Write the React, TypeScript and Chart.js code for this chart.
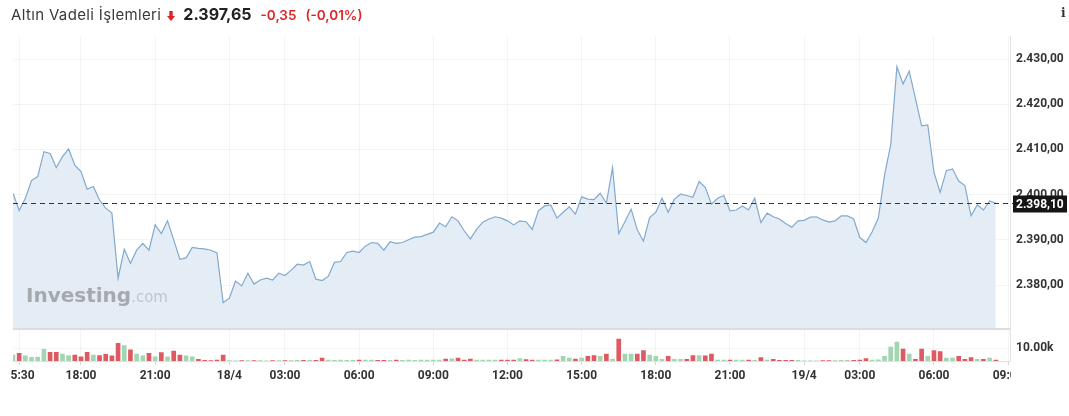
import React, { useEffect, useRef } from 'react';
import { Chart, registerables } from 'chart.js';

Chart.register(...registerables);

// ---- data ----
const prices: number[] = [
  2400.3, 2396.5, 2399.2, 2403.1, 2404.0, 2409.5, 2409.1, 2406.0, 2408.4, 2410.1,
  2406.5, 2405.1, 2401.2, 2401.8, 2398.8, 2397.0, 2395.9, 2381.5, 2387.9, 2384.8,
  2387.7, 2389.2, 2387.7, 2393.3, 2391.4, 2394.2, 2390.0, 2385.7, 2386.0, 2388.3,
  2388.1, 2388.0, 2387.7, 2387.1, 2376.1, 2377.1, 2380.9, 2379.8, 2382.6, 2380.2,
  2381.1, 2381.5, 2381.1, 2382.6, 2382.1, 2383.3, 2384.6, 2384.4, 2385.2, 2381.3,
  2381.0, 2381.9, 2385.0, 2385.2, 2387.2, 2387.5, 2387.2, 2388.6, 2389.4, 2389.2,
  2387.7, 2389.6, 2389.2, 2389.4, 2390.0, 2390.6, 2390.7, 2391.2, 2391.7, 2393.7,
  2392.9, 2395.1, 2394.2, 2392.0, 2390.2, 2392.3, 2393.9, 2394.6, 2395.1, 2394.8,
  2394.2, 2393.3, 2394.2, 2394.0, 2392.3, 2396.4, 2397.5, 2397.7, 2394.8, 2396.1,
  2397.3, 2395.7, 2399.5, 2399.0, 2398.9, 2400.3, 2398.1, 2406.0, 2391.4, 2394.0,
  2396.8, 2392.2, 2389.7, 2394.9, 2396.1, 2399.2, 2396.1, 2399.0, 2400.1, 2399.8,
  2399.4, 2402.9, 2401.6, 2397.9, 2399.2, 2399.8, 2396.4, 2396.6, 2397.5, 2396.6,
  2399.2, 2393.8, 2395.9, 2395.1, 2394.6, 2393.6, 2392.8, 2394.2, 2394.3, 2395.0,
  2395.1, 2394.4, 2393.9, 2394.2, 2395.3, 2395.3, 2394.6, 2390.5, 2389.4, 2391.8,
  2394.8, 2404.3, 2411.0, 2428.3, 2424.5, 2427.3, 2421.3, 2415.2, 2415.4, 2404.9,
  2400.5, 2405.3, 2405.7, 2403.0, 2402.0, 2395.3, 2397.7, 2396.6, 2398.6, 2398.1,
];

const volumes: number[] = [
  4600, 5900, 3900, 2800, 3100, 9000, 6700, 6700, 5400, 4100,
  4600, 3300, 6700, 4600, 4100, 5200, 3900, 13600, 11800, 8500,
  5400, 3900, 5900, 3300, 6400, 3300, 7700, 4600, 3900, 3300,
  1300, 500, 300, 800, 4600, 300, 200, 400, 400, 400,
  400, 200, 300, 300, 300, 300, 500, 500, 600, 600,
  2200, 800, 600, 700, 600, 600, 700, 700, 700, 600,
  600, 600, 700, 600, 700, 600, 700, 800, 700, 800,
  1500, 1600, 2200, 800, 1500, 800, 700, 700, 700, 700,
  800, 700, 1800, 1100, 800, 800, 800, 700, 900, 3500,
  2300, 1500, 2300, 3500, 4200, 3500, 5400, 1500, 16900, 5400,
  5400, 5400, 8100, 4600, 3500, 1200, 3500, 1200, 1200, 1200,
  4200, 4200, 3900, 5400, 800, 800, 800, 700, 700, 700,
  600, 2700, 800, 1200, 600, 600, 600, 500, 200, 200,
  200, 300, 300, 400, 500, 500, 600, 800, 1900, 800,
  900, 3500, 10800, 14600, 9200, 5400, 1200, 9200, 3500, 8100,
  7300, 2300, 2300, 3500, 1200, 2700, 1200, 1200, 2300, 800,
];

const priceTicks: number[] = [2380, 2390, 2400, 2410, 2420, 2430];
const volumeTicks: number[] = [10000];
// indices (15-minute sessions) that carry a time label
const tickIndexes: number[] = [1, 11, 23, 35, 44, 56, 68, 80, 92, 104, 116, 128, 137, 149, 161];

// 15-minute session labels, starting 17/4 15:15, daily break 00:00 -> 01:00
const timeLabels: string[] = (() => {
  const out: string[] = [];
  let day = 17;
  let mins = 15 * 60 + 15;
  const pad = (n: number) => (n < 10 ? '0' : '') + n;
  for (let i = 0; i < 162; i++) {
    const h = Math.floor(mins / 60);
    const m = mins % 60;
    out.push(h === 0 && m === 0 ? `${day}/4` : `${pad(h)}:${pad(m)}`);
    mins += 15;
    if (mins === 24 * 60) { mins = 0; day++; }
    else if (mins === 15) mins = 60;
  }
  return out;
})();

const fmtPrice = (v: number) => {
  const [i, d] = v.toFixed(2).split('.');
  return i.replace(/\B(?=(\d{3})+(?!\d))/g, '.') + ',' + d;
};

const GREEN = '#a2d5b0';
const RED = '#de5a62';
const FONT = 'Roboto, "Noto Sans", sans-serif';

export default function App() {
  const ref = useRef<HTMLCanvasElement | null>(null);

  useEffect(() => {
    if (!ref.current) return;
    const lastPrice = prices[prices.length - 1];
    const volColors = volumes.map((_, i) =>
      i === 0 || prices[i] >= prices[i - 1] ? GREEN : RED
    );

    const overlay = {
      id: 'overlay',
      afterDraw(chart: any) {
        const { ctx, chartArea } = chart;
        const y = chart.scales.y;
        const x = chart.scales.x;
        ctx.save();
        // separator between price & volume panes
        ctx.strokeStyle = '#d2d2d2';
        ctx.lineWidth = 1.5;
        ctx.beginPath();
        ctx.moveTo(chartArea.left, y.bottom + 0.5);
        ctx.lineTo(chartArea.right, y.bottom + 0.5);
        ctx.stroke();
        // last price dashed line
        const py = Math.round(y.getPixelForValue(lastPrice)) + 0.5;
        ctx.strokeStyle = '#333';
        ctx.lineWidth = 1;
        ctx.setLineDash([5, 4]);
        ctx.beginPath();
        ctx.moveTo(chartArea.left, py);
        ctx.lineTo(chartArea.right + 3, py);
        ctx.stroke();
        ctx.setLineDash([]);
        // label box
        ctx.fillStyle = '#151515';
        ctx.fillRect(chartArea.right + 3, py - 8, 54, 17);
        ctx.fillStyle = '#fff';
        ctx.font = `bold 12px ${FONT}`;
        ctx.textBaseline = 'middle';
        ctx.textAlign = 'left';
        ctx.fillText(fmtPrice(lastPrice), chartArea.right + 6, py + 1);
        // clip time labels to the plot width
        ctx.fillStyle = '#fff';
        ctx.fillRect(0, x.top + 1, chartArea.left - 3, x.height);
        ctx.fillRect(chartArea.right + 1, x.top + 1, chart.width, x.height);
        ctx.restore();
      },
    };

    const tickFont = { family: FONT, size: 12, weight: 'bold' as const };

    const chart = new Chart(ref.current, {
      data: {
        datasets: [
          {
            type: 'line',
            data: prices.map((v, i) => ({ x: i, y: v })),
            xAxisID: 'x',
            yAxisID: 'y',
            borderColor: '#82a9cf',
            borderWidth: 1.2,
            backgroundColor: '#e4edf5',
            fill: 'start',
            pointRadius: 0,
            tension: 0,
          },
          {
            type: 'bar',
            data: volumes.map((v, i) => ({ x: i, y: v })),
            xAxisID: 'x',
            yAxisID: 'yv',
            backgroundColor: volColors,
            barThickness: 4,
          },
        ],
      } as any,
      options: {
        responsive: false,
        animation: false,
        events: [],
        layout: { padding: { top: 36, left: 13, right: 0, bottom: 0 } },
        plugins: { legend: { display: false }, tooltip: { enabled: false } },
        scales: {
          x: {
            type: 'linear',
            position: 'bottom',
            offset: false,
            min: 0,
            max: 161.3,
            afterBuildTicks: (ax: any) => { ax.ticks = tickIndexes.map((v) => ({ value: v })); },
            afterFit: (ax: any) => { ax.height = 34; ax.paddingLeft = 0; ax.paddingRight = 0; },
            grid: { offset: false, color: 'rgba(0,0,0,0.045)', tickColor: '#d6d6d6', tickLength: 4, drawTicks: true },
            border: { display: true, color: '#e2e2e2' },
            ticks: {
              autoSkip: false,
              maxRotation: 0,
              padding: 4,
              color: '#333',
              font: tickFont,
              callback: (v: any) => timeLabels[Math.round(v)],
            },
          },
          y: {
            type: 'linear',
            position: 'right',
            stack: 'panes',
            stackWeight: 9,
            min: 2370.38,
            max: 2435.09,
            afterBuildTicks: (ax: any) => { ax.ticks = priceTicks.map((v) => ({ value: v })); },
            afterFit: (ax: any) => { ax.width = 59; },
            grid: { color: 'rgba(0,0,0,0.045)', drawTicks: false },
            border: { display: true, color: '#e2e2e2' },
            ticks: { padding: 6, color: '#333', font: tickFont, callback: (v: any) => fmtPrice(v) },
          },
          yv: {
            type: 'linear',
            position: 'right',
            stack: 'panes',
            stackWeight: 1,
            min: 0,
            max: 25000,
            afterBuildTicks: (ax: any) => { ax.ticks = volumeTicks.map((v) => ({ value: v })); },
            afterFit: (ax: any) => { ax.width = 59; },
            grid: { color: 'rgba(0,0,0,0.045)', drawTicks: false },
            border: { display: true, color: '#e2e2e2' },
            ticks: {
              padding: 6,
              color: '#333',
              font: tickFont,
              callback: (v: any) => (v / 1000).toFixed(2) + 'k',
            },
          },
        },
      } as any,
      plugins: [overlay],
    });
    return () => chart.destroy();
  }, []);

  return (
    <div style={{ position: 'fixed', left: 0, top: 0, width: 1069, height: 416, background: '#fff', overflow: 'hidden' }}>
      <canvas ref={ref} width={1069} height={395} style={{ position: 'absolute', left: 0, top: 0, width: 1069, height: 395 }} />
      <div
        style={{
          position: 'absolute', left: 11, top: 4, height: 21, lineHeight: '21px',
          whiteSpace: 'nowrap', fontFamily: 'Inter, "Noto Sans", sans-serif',
        }}
      >
        <span style={{ fontSize: 15, letterSpacing: '0.35px', color: '#3a3a3a' }}>Altın Vadeli İşlemleri</span>
        <svg width="8" height="10" viewBox="0 0 8 10" style={{ marginLeft: 6, verticalAlign: '-1px' }}>
          <path d="M2.3 0h3.4v5H8L4 10 0 5h2.3z" fill="#dd2424" />
        </svg>
        <span style={{ fontSize: 16, fontWeight: 700, color: '#222', marginLeft: 8 }}>2.397,65</span>
        <span style={{ fontSize: 13.5, fontWeight: 600, color: '#dd2424', marginLeft: 9 }}>-0,35</span>
        <span style={{ fontSize: 13.5, fontWeight: 600, color: '#dd2424', marginLeft: 9 }}>(-0,01%)</span>
      </div>
      <div style={{ position: 'absolute', left: 1061, top: 4, fontFamily: '"DejaVu Serif", serif', fontSize: 12, fontWeight: 700, color: '#333', lineHeight: '18px' }}>i</div>
      <div
        style={{
          position: 'absolute', left: 26, top: 285, lineHeight: '20px', whiteSpace: 'nowrap',
          fontFamily: '"DejaVu Sans", sans-serif', pointerEvents: 'none',
        }}
      >
        <span style={{ fontSize: 20, fontWeight: 700, color: '#a6a9ad' }}>Investing</span>
        <span style={{ fontSize: 15, fontWeight: 400, color: '#c2c6ca' }}>.com</span>
      </div>
    </div>
  );
}
